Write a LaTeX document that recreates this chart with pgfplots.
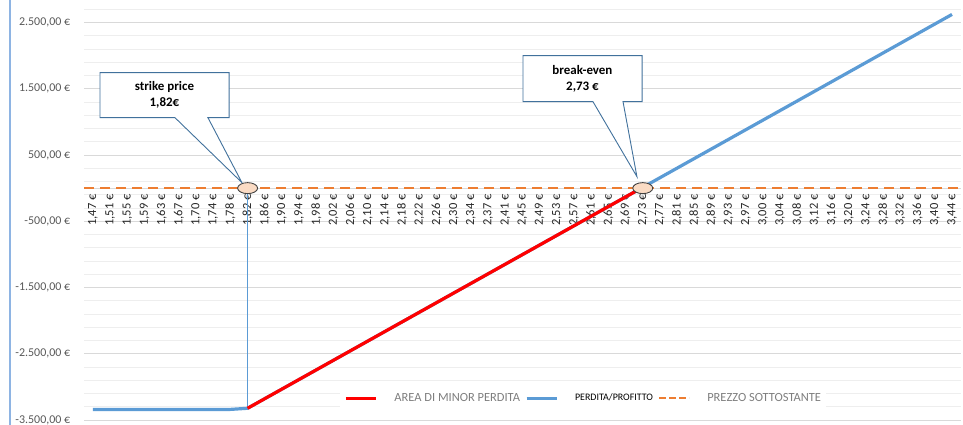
\documentclass[border=0pt]{standalone}
\usepackage{pgfplots}
\pgfplotsset{compat=1.18}
\usepackage{pgfplotstable}
\usepackage{fontspec}
\setmainfont{Carlito}
\definecolor{pblue}{HTML}{5B9BD5}
\definecolor{pred}{HTML}{FF0000}
\definecolor{porange}{HTML}{ED7D31}
\definecolor{cbord}{HTML}{41719C}
\definecolor{peach}{HTML}{FADBC4}
\definecolor{majgrid}{HTML}{D9D9D9}
\definecolor{mingrid}{HTML}{EEEEEE}
\definecolor{lbl}{HTML}{595959}
\definecolor{lgray}{HTML}{7F7F7F}
\definecolor{edgeblue}{HTML}{8EB4E3}

\pgfplotstableread{
x y
0 -3340
1 -3340
2 -3340
3 -3340
4 -3340
5 -3340
6 -3340
7 -3340
8 -3340
9 -3323
10 -3178
11 -3033
12 -2888
13 -2743
14 -2598
15 -2453
16 -2308
17 -2163
18 -2018
19 -1873
20 -1728
21 -1583
22 -1438
23 -1293
24 -1148
25 -1003
26 -858
27 -713
28 -568
29 -423
30 -278
31 -133
32 12
33 157
34 302
35 447
36 592
37 737
38 882
39 1027
40 1172
41 1317
42 1462
43 1607
44 1752
45 1897
46 2042
47 2187
48 2332
49 2477
50 2622
}\profit

\pgfplotstableread{
x y
9 -3323
10 -3178
11 -3033
12 -2888
13 -2743
14 -2598
15 -2453
16 -2308
17 -2163
18 -2018
19 -1873
20 -1728
21 -1583
22 -1438
23 -1293
24 -1148
25 -1003
26 -858
27 -713
28 -568
29 -423
30 -278
31 -133
32 12
}\area

\begin{document}
\begin{tikzpicture}
\begin{axis}[
  scale only axis,
  width=876.2bp, height=420bp,
  xmin=-0.5, xmax=50.5,
  ymin=-3500, ymax=2840,
  axis x line*=middle,
  axis y line*=left,
  y axis line style={draw=none},
  x axis line style={draw=majgrid, line width=0.8bp},
  major tick length=0pt, minor tick length=0pt,
  xtick={0,...,50},
  xticklabels={{1,47 €},{1,51 €},{1,55 €},{1,59 €},{1,63 €},{1,67 €},{1,70 €},{1,74 €},{1,78 €},{1,82 €},{1,86 €},{1,90 €},{1,94 €},{1,98 €},{2,02 €},{2,06 €},{2,10 €},{2,14 €},{2,18 €},{2,22 €},{2,26 €},{2,30 €},{2,34 €},{2,37 €},{2,41 €},{2,45 €},{2,49 €},{2,53 €},{2,57 €},{2,61 €},{2,65 €},{2,69 €},{2,73 €},{2,77 €},{2,81 €},{2,85 €},{2,89 €},{2,93 €},{2,97 €},{3,00 €},{3,04 €},{3,08 €},{3,12 €},{3,16 €},{3,20 €},{3,24 €},{3,28 €},{3,32 €},{3,36 €},{3,40 €},{3,44 €}},
  xticklabel style={rotate=90, anchor=east, inner sep=0pt, font=\fontsize{12.5}{12}\selectfont, text=black!85},
  xticklabel shift=6bp,
  ytick={-3500,-2500,-1500,-500,500,1500,2500},
  yticklabels={{-3.500,00 €},{-2.500,00 €},{-1.500,00 €},{-500,00 €},{500,00 €},{1.500,00 €},{2.500,00 €}},
  yticklabel style={inner sep=0pt, font=\fontsize{12}{13}\selectfont, text=lbl},
  yticklabel shift=14bp,
  minor ytick={-3300,-3100,...,2700},
  ymajorgrids, yminorgrids,
  major grid style={draw=majgrid, line width=1bp},
  minor grid style={draw=mingrid, line width=1bp},
  clip=false,
  legend columns=3,
  legend cell align=left,
  legend image code/.code={\draw[#1] (0bp,0bp) -- (30bp,0bp);},
  legend style={at={(0.292,0.052)}, anchor=west, draw=none, fill=white,
    inner xsep=4bp, inner ysep=4bp,
    nodes={inner xsep=1bp},
    /tikz/every even column/.append style={column sep=4bp},
    /tikz/every odd column/.append style={column sep=16bp}},
]
% strike vertical line
\addplot[forget plot, pblue, line width=0.9bp] coordinates {(9,0) (9,-3323)};
% underlying price (zero line)
\addplot[forget plot, porange, line width=2.2bp, dash pattern=on 10bp off 6bp] coordinates {(-0.5,0) (50.5,0)};
% profit/loss
\addplot[forget plot, pblue, line width=3.2bp, line join=round] table[x=x,y=y] {\profit};
% area of lower loss
\addplot[forget plot, pred, line width=3.2bp, line join=round] table[x=x,y=y] {\area};

\addlegendimage{pred, line width=3bp}
\addlegendentry{\fontsize{12.5}{14}\selectfont\color{lgray}AREA DI MINOR PERDITA}
\addlegendimage{pblue, line width=3bp}
\addlegendentry{\fontsize{10}{12}\selectfont\color{black}PERDITA/PROFITTO}
\addlegendimage{porange, line width=2.2bp, dash pattern=on 7bp off 3bp}
\addlegendentry{\fontsize{12.5}{14}\selectfont\color{lgray}PREZZO SOTTOSTANTE}

% callouts
\draw[cbord, line width=0.9bp, fill=white, line join=miter]
  (axis cs:0.407,1743) -- (axis cs:7.92,1743) -- (axis cs:7.92,1064) -- (axis cs:6.69,1064)
  -- (axis cs:8.67,83) -- (axis cs:4.77,1064) -- (axis cs:0.407,1064) -- cycle;
\node[align=center, font=\fontsize{13}{16}\selectfont\bfseries, text=black] at (axis cs:4.16,1411) {strike price\\1,82€};
\draw[cbord, line width=0.9bp, fill=white, line join=miter]
  (axis cs:25.03,2000) -- (axis cs:31.96,2000) -- (axis cs:31.96,1306) -- (axis cs:30.85,1306)
  -- (axis cs:31.66,174) -- (axis cs:29.10,1306) -- (axis cs:25.03,1306) -- cycle;
\node[align=center, font=\fontsize{13}{16}\selectfont\bfseries, text=black] at (axis cs:28.49,1657) {break-even\\2,73 €};
% markers
\draw[black!75, line width=0.9bp, fill=peach] (axis cs:9,0) ellipse [x radius=10bp, y radius=5.5bp];
\draw[black!75, line width=0.9bp, fill=peach] (axis cs:32,0) ellipse [x radius=10bp, y radius=5.5bp];
% left edge line
\draw[edgeblue, line width=1.5bp] (rel axis cs:0,0) ++(-74.4bp,-5bp) -- ++(0bp,425bp);
\end{axis}
\pgfresetboundingbox
\path (current axis.south west) ++(-84.4bp,-5bp) rectangle ++(963bp,425bp);
\end{tikzpicture}
\end{document}
